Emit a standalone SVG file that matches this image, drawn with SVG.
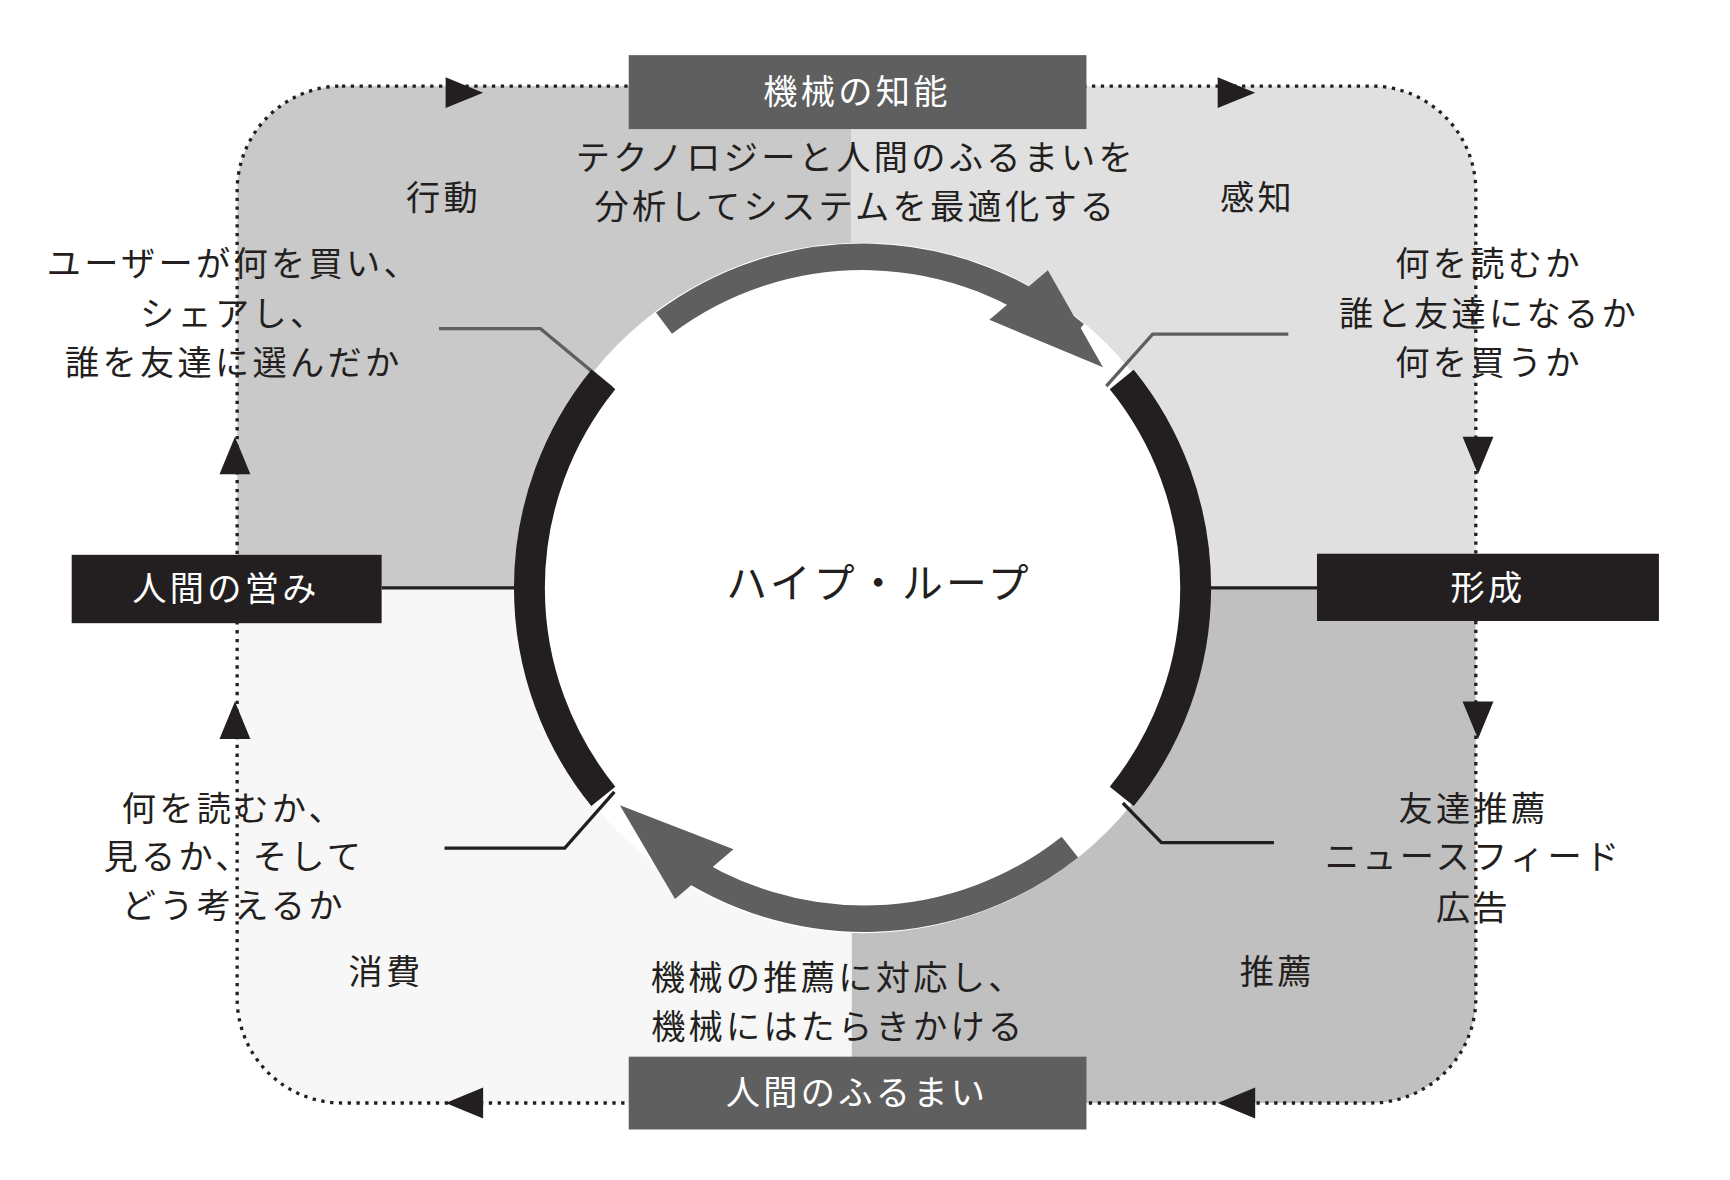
<svg xmlns="http://www.w3.org/2000/svg" width="1730" height="1180" viewBox="0 0 1730 1180">
<style>
text{font-family:"Noto Sans CJK JP","Noto Sans",sans-serif;font-size:31px;fill:#231f20;text-anchor:middle;letter-spacing:3px}
.w{fill:#fff}
.dot{fill:none;stroke:#231f20;stroke-width:3;stroke-dasharray:3 5}
</style>
<defs><clipPath id="rr"><rect x="215" y="78" width="1123" height="922" rx="95"/></clipPath></defs>
<rect width="1730" height="1180" fill="#fff"/>
<g transform="scale(1.103)">
<g id="quadrants" clip-path="url(#rr)">
<rect x="215" y="78" width="557" height="455" fill="#c8c9c8"/>
<rect x="772" y="78" width="566" height="455" fill="#e0e0e0"/>
<rect x="772" y="533" width="566" height="467" fill="#c0c0c0"/>
<rect x="215" y="533" width="557" height="467" fill="#f7f7f7"/>
</g>
<circle cx="782" cy="533" r="313" fill="#fff"/>
<g id="connectors">
<rect class="dot" x="215" y="78" width="1123" height="922" rx="95"/>
<g fill="#231f20">
<polygon points="404,70 438,84 404,98"/>
<polygon points="1104,70 1138,84 1104,98"/>
<polygon points="1326,396 1354,396 1340,430"/>
<polygon points="1326,636 1354,636 1340,670"/>
<polygon points="438,986 404,1000 438,1014"/>
<polygon points="1138,986 1104,1000 1138,1014"/>
<polygon points="199,430 227,430 213,396"/>
<polygon points="199,670 227,670 213,636"/>
</g>
<path d="M346,533H468M1095,533H1194" stroke="#231f20" stroke-width="3" fill="none"/>
<path d="M398,298H490L555,352" stroke="#5f5f5f" stroke-width="3" fill="none"/>
<path d="M1168,303H1045L1003,350" stroke="#5f5f5f" stroke-width="3" fill="none"/>
<path d="M403,769H512L557,718" stroke="#231f20" stroke-width="3" fill="none"/>
<path d="M1155,764H1053L1018,728" stroke="#231f20" stroke-width="3" fill="none"/>
<path d="M547,344A300,300 0 0 0 547,722" stroke="#231f20" stroke-width="28" fill="none"/>
<path d="M1017,344A300,300 0 0 1 1017,722" stroke="#231f20" stroke-width="28" fill="none"/>
<path d="M602,293A300,300 0 0 1 975,303" stroke="#5f5f5f" stroke-width="24" fill="none"/>
<polygon points="950,245 1000,333 897,290" fill="#5f5f5f"/>
<path d="M970,768A300,300 0 0 1 612,779" stroke="#5f5f5f" stroke-width="24" fill="none"/>
<polygon points="562,730 665,770 612,815" fill="#5f5f5f"/>
</g>
<g id="n-machine"><rect x="570" y="50" width="415" height="67" fill="#5f5f5f"/><text class="w" x="777" y="94">機械の知能</text></g>
<g id="n-behavior"><rect x="570" y="958" width="415" height="66" fill="#5f5f5f"/><text class="w" x="777" y="1002">人間のふるまい</text></g>
<g id="n-life"><rect x="65" y="503" width="281" height="62" fill="#231f20"/><text class="w" x="205" y="545">人間の営み</text></g>
<g id="n-form"><rect x="1194" y="502" width="310" height="61" fill="#231f20"/><text class="w" x="1349" y="544">形成</text></g>
<g id="labels">
<text x="776" y="154">テクノロジーと人間のふるまいを</text>
<text x="776" y="199">分析してシステムを最適化する</text>
<text x="402" y="190">行動</text>
<text x="1140" y="190">感知</text>
<text x="212" y="250">ユーザーが何を買い、</text>
<text x="212" y="296">シェアし、</text>
<text x="212" y="340">誰を友達に選んだか</text>
<text x="1350" y="250">何を読むか</text>
<text x="1350" y="296">誰と友達になるか</text>
<text x="1350" y="340">何を買うか</text>
<text x="797" y="542" style="font-size:37px">ハイプ・ループ</text>
<text x="212" y="744">何を読むか、</text>
<text x="212" y="788">見るか、そして</text>
<text x="212" y="832">どう考えるか</text>
<text x="1336" y="744">友達推薦</text>
<text x="1336" y="788">ニュースフィード</text>
<text x="1336" y="834">広告</text>
<text x="350" y="892">消費</text>
<text x="1158" y="892">推薦</text>
<text x="760" y="898">機械の推薦に対応し、</text>
<text x="760" y="942">機械にはたらきかける</text>
</g>
</g>
</svg>
